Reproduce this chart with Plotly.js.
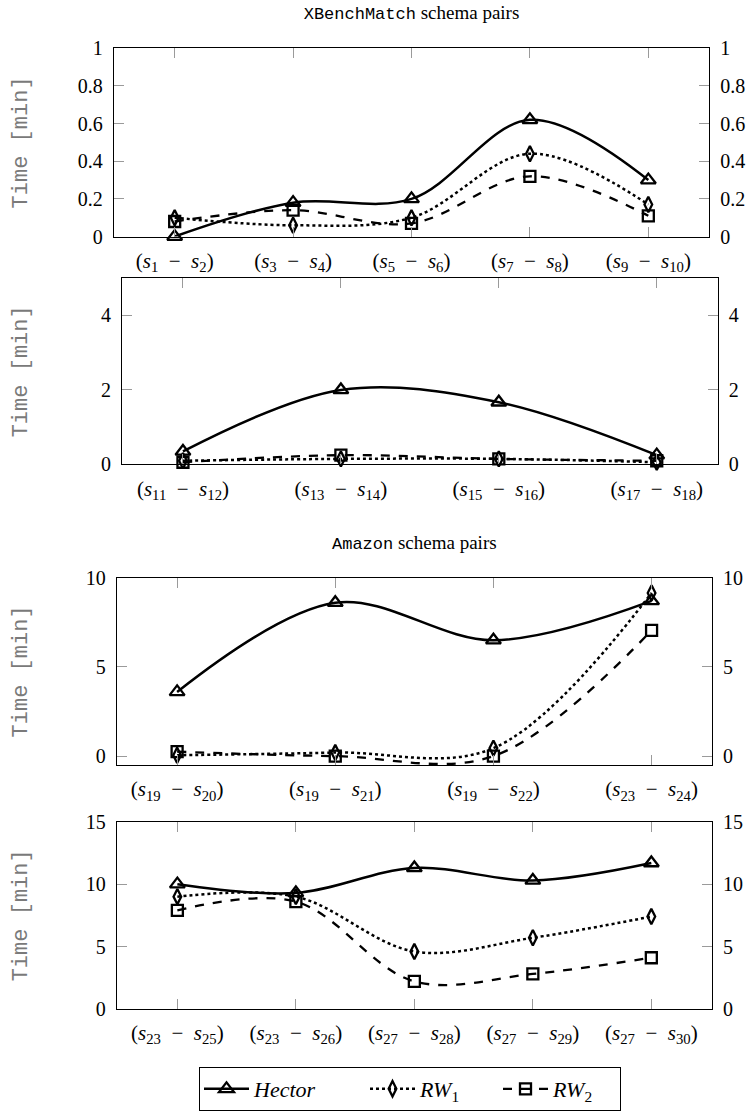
<!DOCTYPE html>
<html>
<head>
<meta charset="utf-8">
<script src="https://cdn.plot.ly/plotly-3.0.1.min.js"></script>
<style>html,body{margin:0;padding:0;background:#fff;} #chart{width:751px;height:1111px;}</style>
</head>
<body>
<div id="chart"></div>
<script>
// ---------------- data ----------------
const seriesNames = ["<i>Hector</i>", "<i>RW</i><sub>1</sub>", "<i>RW</i><sub>2</sub>"];

const cats1 = ["(<i>s</i><sub>1</sub>  −  <i>s</i><sub>2</sub>)", "(<i>s</i><sub>3</sub>  −  <i>s</i><sub>4</sub>)", "(<i>s</i><sub>5</sub>  −  <i>s</i><sub>6</sub>)", "(<i>s</i><sub>7</sub>  −  <i>s</i><sub>8</sub>)", "(<i>s</i><sub>9</sub>  −  <i>s</i><sub>10</sub>)"];
const hector1 = [0.0, 0.18, 0.20, 0.62, 0.30];
const rw1_1   = [0.10, 0.06, 0.10, 0.44, 0.17];
const rw2_1   = [0.08, 0.14, 0.07, 0.32, 0.11];

const cats2 = ["(<i>s</i><sub>11</sub>  −  <i>s</i><sub>12</sub>)", "(<i>s</i><sub>13</sub>  −  <i>s</i><sub>14</sub>)", "(<i>s</i><sub>15</sub>  −  <i>s</i><sub>16</sub>)", "(<i>s</i><sub>17</sub>  −  <i>s</i><sub>18</sub>)"];
const hector2 = [0.35, 2.0, 1.67, 0.25];
const rw1_2   = [0.10, 0.15, 0.15, 0.06];
const rw2_2   = [0.06, 0.25, 0.15, 0.10];

const cats3 = ["(<i>s</i><sub>19</sub>  −  <i>s</i><sub>20</sub>)", "(<i>s</i><sub>19</sub>  −  <i>s</i><sub>21</sub>)", "(<i>s</i><sub>19</sub>  −  <i>s</i><sub>22</sub>)", "(<i>s</i><sub>23</sub>  −  <i>s</i><sub>24</sub>)"];
const hector3 = [3.6, 8.6, 6.5, 8.7];
const rw1_3   = [0.05, 0.2, 0.45, 9.15];
const rw2_3   = [0.25, 0.0, 0.0, 7.05];

const cats4 = ["(<i>s</i><sub>23</sub>  −  <i>s</i><sub>25</sub>)", "(<i>s</i><sub>23</sub>  −  <i>s</i><sub>26</sub>)", "(<i>s</i><sub>27</sub>  −  <i>s</i><sub>28</sub>)", "(<i>s</i><sub>27</sub>  −  <i>s</i><sub>29</sub>)", "(<i>s</i><sub>27</sub>  −  <i>s</i><sub>30</sub>)"];
const hector4 = [10.0, 9.3, 11.3, 10.3, 11.7];
const rw1_4   = [9.0, 9.0, 4.6, 5.7, 7.4];
const rw2_4   = [7.9, 8.6, 2.2, 2.8, 4.1];

const yTicks1 = [0, 0.2, 0.4, 0.6, 0.8, 1];
const yTickText1 = ["0", "0.2", "0.4", "0.6", "0.8", "1"];
const yTicks2 = [0, 2, 4];
const yTicks3 = [0, 5, 10];
const yTicks4 = [0, 5, 10, 15];

const title1 = '<span style="font-family:Liberation Mono;font-size:17px">XBenchMatch</span> schema pairs';
const title2 = '<span style="font-family:Liberation Mono;font-size:17px">Amazon</span> schema pairs';
const yTitle = 'Time [min]';

// ---------------- layout geometry ----------------
const W = 751, H = 1111;
const fx = v => v / W;
const fy = v => 1 - v / H;

const panels = [
  {cats: cats1, vals: [hector1, rw1_1, rw2_1], box: [113.7, 709.3, 48.7, 238.7], yr: [0, 1],    yt: yTicks1, ytt: yTickText1, off: 0.515},
  {cats: cats2, vals: [hector2, rw1_2, rw2_2], box: [122.0, 717.7, 280.7, 468.7], yr: [0, 5],   yt: yTicks2, ytt: yTicks2.map(String), off: 0.386},
  {cats: cats3, vals: [hector3, rw1_3, rw2_3], box: [116.7, 712.0, 583.0, 772.0], yr: [-0.5, 10], yt: yTicks3, ytt: yTicks3.map(String), off: 0.382},
  {cats: cats4, vals: [hector4, rw1_4, rw2_4], box: [116.7, 712.0, 829.3, 1018.0], yr: [0, 15], yt: yTicks4, ytt: yTicks4.map(String), off: 0.512}
];

const styles = [
  {dash: 'solid', width: 2.5, symbol: 'triangle-up-open', size: 13, lw: 106},
  {dash: 'dot',   width: 2.5, symbol: 'diamond-tall-open', size: 11, lw: 73},
  {dash: 'dash',  width: 2.3, symbol: 'square-open', size: 11, lw: 62}
];

const serif = 'Liberation Serif';
const tickFont = {family: serif, size: 20, color: '#000'};
const xTickFont = {family: serif, size: 21, color: '#000'};

const data = [];
const layout = {
  width: W, height: H,
  margin: {l: 0, r: 0, t: 0, b: 0},
  paper_bgcolor: '#fff', plot_bgcolor: '#fff',
  showlegend: true,
  title: {text: title1, font: {family: serif, size: 19, color: '#000'}, x: fx(411.5), xanchor: 'center', y: fy(12), yanchor: 'middle', xref: 'paper', yref: 'container'},
  legend: {
    orientation: 'h', x: fx(199), y: fy(1077), xanchor: 'left', yanchor: 'top',
    bordercolor: '#000', borderwidth: 1, bgcolor: '#fff',
    font: {family: serif, size: 22, color: '#000'},
    itemwidth: 45, tracegroupgap: 0
  },
  annotations: [
    {text: title2, xref: 'paper', yref: 'paper', x: fx(414), y: fy(548), xanchor: 'center', yanchor: 'middle', showarrow: false, font: {family: serif, size: 19, color: '#000'}}
  ]
};

panels.forEach((p, i) => {
  const k = i + 1;
  const xa = k === 1 ? 'x' : 'x' + k;
  const ya = k === 1 ? 'y' : 'y' + k;
  const yRight = 'y' + (k + 4);
  p.vals.forEach((v, s) => {
    const st = styles[s];
    data.push({
      type: 'scatter', mode: 'lines+markers',
      x: p.cats, y: v, xaxis: xa, yaxis: ya,
      name: seriesNames[s], legendgroup: 's' + s, showlegend: i === 0, legendwidth: st.lw,
      line: {color: '#000', width: st.width, dash: st.dash, shape: 'spline', smoothing: 1},
      marker: {symbol: st.symbol, size: st.size, color: '#000', line: {color: '#000', width: 2.3}},
      cliponaxis: false,
      hoverinfo: 'skip'
    });
  });
  // carrier for the mirrored right-hand axis (draws nothing)
  data.push({type: 'scatter', mode: 'none', x: p.cats, y: p.vals[0], xaxis: xa, yaxis: yRight, showlegend: false, hoverinfo: 'skip'});

  const [x0, x1, yTop, yBot] = p.box;
  layout['xaxis' + (k === 1 ? '' : k)] = {
    domain: [fx(x0), fx(x1)], anchor: ya, type: 'category',
    range: [-p.off, p.cats.length - 1 + p.off],
    showline: true, linecolor: '#000', linewidth: 1, mirror: 'ticks',
    ticks: 'inside', ticklen: 10, tickcolor: '#9a9a9a', tickwidth: 1,
    showgrid: false, zeroline: false, tickfont: xTickFont, ticklabelstandoff: 5,
    fixedrange: true
  };
  layout['yaxis' + (k === 1 ? '' : k)] = {
    domain: [fy(yBot), fy(yTop)], anchor: xa, range: p.yr,
    tickmode: 'array', tickvals: p.yt, ticktext: p.ytt,
    showline: true, linecolor: '#000', linewidth: 1, mirror: 'ticks',
    ticks: 'inside', ticklen: 10, tickcolor: '#9a9a9a', tickwidth: 1,
    showgrid: false, zeroline: false, tickfont: tickFont, ticklabelstandoff: 6,
    fixedrange: true
  };
  layout['yaxis' + (k + 4)] = {
    overlaying: ya, side: 'right', anchor: xa, range: p.yr,
    tickmode: 'array', tickvals: p.yt, ticktext: p.ytt,
    showline: false, ticks: '', showgrid: false, zeroline: false,
    tickfont: tickFont, ticklabelstandoff: 10, fixedrange: true
  };
  layout.annotations.push({
    text: yTitle, textangle: -90, xref: 'paper', yref: 'paper',
    x: fx(21), y: fy((yTop + yBot) / 2), xanchor: 'center', yanchor: 'middle',
    showarrow: false, font: {family: 'Liberation Mono', size: 22, color: '#7a7a7a'}
  });
});

Plotly.newPlot('chart', data, layout, {staticPlot: true, displayModeBar: false});
</script>
</body>
</html>
